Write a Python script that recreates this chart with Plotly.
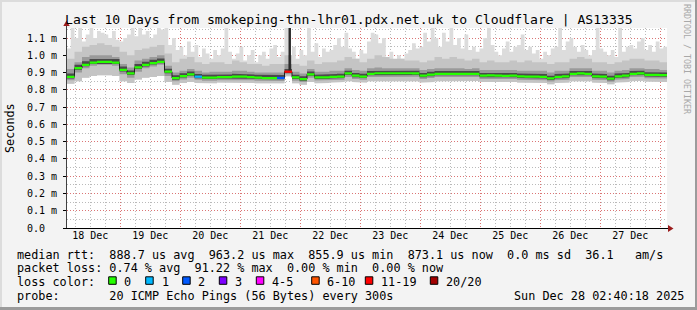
import plotly.graph_objects as go
import pandas as pd

# ---------------- data ----------------
START = "2025-12-18 02:40:18"
END = "2025-12-28 02:40:18"

# median rtt in ms, one value per 3-hour step (80 steps)
median_ms = [0.875, 0.925, 0.945, 0.958, 0.962, 0.962, 0.958, 0.915, 0.895, 0.930,
             0.944, 0.955, 0.962, 0.905, 0.868, 0.880, 0.890, 0.876, 0.871, 0.871,
             0.874, 0.873, 0.877, 0.876, 0.873, 0.871, 0.868, 0.868, 0.869, 0.905,
             0.872, 0.862, 0.890, 0.872, 0.872, 0.875, 0.877, 0.895, 0.882, 0.877,
             0.893, 0.896, 0.896, 0.896, 0.896, 0.896, 0.895, 0.882, 0.888, 0.893,
             0.892, 0.893, 0.893, 0.892, 0.893, 0.882, 0.883, 0.882, 0.881, 0.882,
             0.878, 0.877, 0.876, 0.875, 0.866, 0.875, 0.878, 0.893, 0.895, 0.893,
             0.878, 0.876, 0.865, 0.878, 0.882, 0.893, 0.895, 0.886, 0.886, 0.885]

# loss category index per step (0 -> "0", 1 -> "1", 2 -> "2", ..., 6 -> "11-19")
loss_idx = [0] * 17 + [1] + [0] * 10 + [2, 6] + [0] * 50

# smoke percentiles (ms), per 3-hour step
min_ms = [0.835, 0.850, 0.870, 0.880, 0.885, 0.885, 0.880, 0.850, 0.840, 0.860,
          0.870, 0.875, 0.880, 0.845, 0.830, 0.840, 0.845, 0.840, 0.840, 0.838,
          0.842, 0.840, 0.843, 0.842, 0.840, 0.838, 0.836, 0.835, 0.838, 0.878,
          0.838, 0.830, 0.845, 0.838, 0.840, 0.842, 0.845, 0.850, 0.845, 0.842,
          0.850, 0.852, 0.853, 0.852, 0.850, 0.852, 0.850, 0.842, 0.846, 0.850,
          0.850, 0.852, 0.850, 0.849, 0.851, 0.845, 0.845, 0.844, 0.843, 0.845,
          0.842, 0.841, 0.840, 0.840, 0.832, 0.840, 0.842, 0.850, 0.852, 0.850,
          0.842, 0.840, 0.832, 0.842, 0.845, 0.850, 0.852, 0.848, 0.846, 0.846]

p90_ms = [0.98, 1.02, 1.05, 1.06, 1.07, 1.06, 1.05, 1.02, 1.00, 1.03,
          1.04, 1.05, 1.06, 1.01, 0.96, 0.98, 0.99, 0.96, 0.95, 0.96,
          0.96, 0.95, 0.97, 0.96, 0.95, 0.95, 0.94, 0.95, 0.95, 1.00,
          0.95, 0.94, 0.97, 0.95, 0.96, 0.96, 0.97, 0.99, 0.98, 0.96,
          0.98, 1.00, 0.99, 0.98, 0.98, 0.97, 0.97, 0.96, 0.97, 0.99,
          0.98, 0.99, 0.98, 0.97, 0.98, 0.96, 0.97, 0.96, 0.96, 0.97,
          0.96, 0.97, 0.96, 0.96, 0.95, 0.96, 0.96, 0.98, 0.99, 0.98,
          0.96, 0.96, 0.95, 0.96, 0.97, 0.98, 0.98, 0.97, 0.97, 0.96]

p75_ms = [0.920, 0.960, 0.990, 1.000, 1.000, 1.000, 0.990, 0.950, 0.930, 0.970,
          0.980, 0.990, 1.000, 0.940, 0.900, 0.910, 0.920, 0.910, 0.900, 0.905,
          0.905, 0.905, 0.910, 0.910, 0.905, 0.900, 0.900, 0.900, 0.900, 0.950,
          0.905, 0.895, 0.920, 0.905, 0.905, 0.910, 0.910, 0.925, 0.915, 0.910,
          0.925, 0.930, 0.925, 0.925, 0.925, 0.925, 0.925, 0.915, 0.920, 0.925,
          0.925, 0.925, 0.925, 0.920, 0.925, 0.915, 0.915, 0.915, 0.915, 0.915,
          0.910, 0.910, 0.910, 0.910, 0.900, 0.910, 0.910, 0.925, 0.925, 0.925,
          0.910, 0.910, 0.900, 0.910, 0.915, 0.925, 0.925, 0.920, 0.920, 0.915]

p25_ms = [0.855, 0.900, 0.925, 0.940, 0.945, 0.945, 0.940, 0.890, 0.870, 0.905,
          0.925, 0.935, 0.945, 0.880, 0.850, 0.860, 0.870, 0.858, 0.853, 0.853,
          0.856, 0.855, 0.858, 0.857, 0.855, 0.853, 0.850, 0.850, 0.851, 0.890,
          0.853, 0.845, 0.870, 0.854, 0.854, 0.856, 0.858, 0.875, 0.863, 0.858,
          0.874, 0.877, 0.877, 0.877, 0.876, 0.877, 0.876, 0.863, 0.869, 0.874,
          0.873, 0.874, 0.874, 0.873, 0.874, 0.863, 0.864, 0.863, 0.862, 0.863,
          0.859, 0.858, 0.857, 0.856, 0.848, 0.856, 0.859, 0.874, 0.876, 0.874,
          0.859, 0.857, 0.847, 0.859, 0.863, 0.874, 0.876, 0.867, 0.867, 0.866]

p60_ms = [0.895, 0.945, 0.965, 0.978, 0.982, 0.982, 0.978, 0.935, 0.912, 0.950,
          0.962, 0.974, 0.982, 0.922, 0.884, 0.896, 0.906, 0.892, 0.887, 0.888,
          0.890, 0.889, 0.893, 0.892, 0.889, 0.887, 0.884, 0.885, 0.886, 0.920,
          0.888, 0.878, 0.906, 0.888, 0.888, 0.891, 0.893, 0.911, 0.898, 0.893,
          0.909, 0.912, 0.912, 0.912, 0.912, 0.912, 0.911, 0.898, 0.904, 0.909,
          0.908, 0.909, 0.909, 0.908, 0.909, 0.898, 0.899, 0.898, 0.897, 0.898,
          0.894, 0.893, 0.892, 0.891, 0.882, 0.891, 0.894, 0.909, 0.911, 0.909,
          0.894, 0.892, 0.881, 0.894, 0.898, 0.909, 0.911, 0.902, 0.902, 0.901]

p40_ms = [0.866, 0.916, 0.936, 0.950, 0.954, 0.954, 0.950, 0.906, 0.886, 0.921,
          0.935, 0.947, 0.954, 0.896, 0.859, 0.871, 0.881, 0.867, 0.862, 0.863,
          0.865, 0.864, 0.868, 0.867, 0.864, 0.862, 0.859, 0.860, 0.861, 0.897,
          0.863, 0.853, 0.881, 0.863, 0.863, 0.866, 0.868, 0.886, 0.873, 0.868,
          0.884, 0.887, 0.887, 0.887, 0.887, 0.887, 0.886, 0.873, 0.879, 0.884,
          0.883, 0.884, 0.884, 0.883, 0.884, 0.873, 0.874, 0.873, 0.872, 0.873,
          0.869, 0.868, 0.867, 0.866, 0.857, 0.866, 0.869, 0.884, 0.886, 0.884,
          0.869, 0.867, 0.856, 0.869, 0.873, 0.884, 0.886, 0.877, 0.877, 0.876]

# maximum ping (ms), per 90-minute step (160 steps)
max_ms = [1.04, 1.20, 1.10, 1.20, 1.08, 1.12, 1.20, 1.10, 1.14, 1.13,
          1.12, 1.10, 1.14, 1.09, 1.08, 1.10, 1.12, 1.20, 1.11, 1.20,
          1.12, 1.14, 1.10, 1.12, 1.20, 1.15, 1.20, 1.06, 1.10, 1.03,
          1.05, 1.00, 1.08, 1.02, 1.06, 0.99, 1.04, 1.01, 0.98, 1.03,
          1.00, 1.04, 1.20, 1.02, 0.98, 1.01, 1.05, 0.97, 1.00, 1.03,
          0.96, 1.00, 1.02, 0.98, 1.04, 1.06, 0.99, 1.02, 1.20, 1.00,
          1.05, 0.98, 1.03, 1.00, 1.20, 1.02, 1.07, 0.99, 1.04, 1.02,
          1.03, 1.06, 1.10, 1.05, 1.13, 1.04, 1.02, 0.98, 1.03, 1.01,
          1.08, 1.13, 1.12, 1.07, 1.10, 0.99, 1.02, 0.97, 1.00, 0.98,
          1.01, 1.03, 1.07, 1.04, 1.05, 1.13, 1.08, 1.20, 1.10, 1.05,
          1.13, 1.08, 1.20, 1.06, 1.10, 1.04, 1.12, 1.03, 1.05, 1.02,
          1.04, 1.10, 1.20, 1.06, 1.02, 1.00, 1.04, 1.08, 1.02, 1.05,
          1.06, 1.12, 1.03, 1.05, 1.01, 1.03, 0.98, 1.02, 1.00, 1.04,
          1.05, 1.20, 1.03, 1.08, 1.10, 1.05, 1.02, 1.06, 1.03, 1.00,
          1.03, 1.20, 1.04, 1.02, 1.00, 1.03, 0.99, 1.20, 1.02, 1.05,
          1.06, 1.04, 1.08, 1.10, 1.03, 1.06, 1.02, 1.08, 1.04, 1.05]

# high-loss sample (91 % loss) that shows as a dark column
spike_time = "2025-12-21 19:45"
spike_low_ms = 0.905
spike_high_ms = 1.25

day_labels = ["18 Dec", "19 Dec", "20 Dec", "21 Dec", "22 Dec",
              "23 Dec", "24 Dec", "25 Dec", "26 Dec", "27 Dec"]
y_tick_vals = [0.0, 0.1, 0.2, 0.3, 0.4, 0.5, 0.6, 0.7, 0.8, 0.9, 1.0, 1.1]
y_tick_text = ["0.0\u00a0\u00a0", "0.1 m", "0.2 m", "0.3 m", "0.4 m", "0.5 m",
               "0.6 m", "0.7 m", "0.8 m", "0.9 m", "1.0 m", "1.1 m"]

loss_labels = ["0", "1", "2", "3", "4-5", "6-10", "11-19", "20/20"]
loss_colors = ["#26ff00", "#00b8ff", "#0059ff", "#7e00ff", "#ff00ff",
               "#ff5500", "#ff0000", "#a10000"]

title_text = "Last 10 Days from smokeping-thn-lhr01.pdx.net.uk to Cloudflare | AS13335"
legend_rtt = "median rtt:  888.7 us avg  963.2 us max  855.9 us min  873.1 us now  0.0 ms sd  36.1   am/s"
legend_loss = "packet loss: 0.74 % avg  91.22 % max  0.00 % min  0.00 % now"
legend_probe = "probe:       20 ICMP Echo Pings (56 Bytes) every 300s"
stamp_text = "Sun Dec 28 02:40:18 2025"

# ---------------- geometry helpers ----------------
W, H = 697, 310
ML, MR, MT, MB = 67, 30, 28, 82
PW, PH = W - ML - MR, H - MT - MB
Y_TOP = 1.158

def px(xp):
    return (xp - ML) / PW

def py(yp):
    return (H - MB - yp) / PH

MONO = "DejaVu Sans Mono"
MAJOR_GRID = "rgba(225,105,105,0.85)"
MINOR_GRID = "rgba(140,140,140,0.6)"
DOT = "1px,2px"

edges80 = list(pd.date_range(START, periods=len(median_ms) + 1, freq="3h"))
edges160 = list(pd.date_range(START, periods=len(max_ms) + 1, freq="90min"))

def step_band(e_up, upper, e_lo, lower):
    xs, ys = [], []
    for i, v in enumerate(upper):
        xs += [e_up[i], e_up[i + 1]]
        ys += [v, v]
    for i in reversed(range(len(lower))):
        xs += [e_lo[i + 1], e_lo[i]]
        ys += [lower[i], lower[i]]
    return xs, ys

fig = go.Figure()

def add_band(xs, ys, color):
    fig.add_trace(go.Scatter(x=xs, y=ys, mode="lines", fill="toself",
                             fillcolor=color, line=dict(width=0, color=color),
                             hoverinfo="skip", showlegend=False))

# smoke
add_band(*step_band(edges160, max_ms, edges80, min_ms), "#dcdcdc")
add_band(*step_band(edges80, p90_ms, edges80, min_ms), "#c4c4c4")
add_band(*step_band(edges80, p75_ms, edges80, p25_ms), "#9a9a9a")
add_band(*step_band(edges80, p60_ms, edges80, p40_ms), "#4a4a4a")

# high-loss dark column
st = pd.Timestamp(spike_time)
half = pd.Timedelta(minutes=30)
add_band([st - half, st + half, st + half, st - half],
         [spike_high_ms, spike_high_ms, spike_low_ms, spike_low_ms], "#2a2a2a")

# median line (dark step) + loss-coloured blocks
fig.add_trace(go.Scatter(x=edges80, y=median_ms + [median_ms[-1]], mode="lines",
                         line=dict(shape="hv", color="#202020", width=1),
                         hoverinfo="skip", showlegend=False))
HB = 0.0065
for ci, col in enumerate(loss_colors):
    xs, ys = [], []
    for k, m in enumerate(median_ms):
        if loss_idx[k] != ci:
            continue
        a, b = edges80[k], edges80[k + 1]
        xs += [a, b, b, a, a, None]
        ys += [m + HB, m + HB, m - HB, m - HB, m + HB, None]
    if xs:
        fig.add_trace(go.Scatter(x=xs, y=ys, mode="lines", fill="toself",
                                 fillcolor=col, line=dict(width=0, color=col),
                                 hoverinfo="skip", showlegend=False))

# invisible trace to activate overlay axis for day labels
fig.add_trace(go.Scatter(x=[START, END], y=[0, 0], xaxis="x2", mode="markers",
                         marker=dict(opacity=0), hoverinfo="skip", showlegend=False))

start_day = pd.Timestamp("2025-12-18")
midnights = [start_day + pd.Timedelta(days=d) for d in range(1, 11)]
noons = [start_day + pd.Timedelta(days=d, hours=12) for d in range(len(day_labels))]

fig.update_layout(
    width=W, height=H, autosize=False,
    margin=dict(l=ML, r=MR, t=MT, b=MB, pad=0),
    paper_bgcolor="#f3f3f3", plot_bgcolor="#ffffff",
    showlegend=False,
    font=dict(family=MONO, color="#000000", size=10),
    xaxis=dict(type="date", range=[START, END], tickmode="array", tickvals=midnights,
               showticklabels=False, ticks="", showgrid=True,
               gridcolor=MAJOR_GRID, griddash=DOT, gridwidth=1,
               zeroline=False, showline=False,
               minor=dict(dtick=6 * 3600 * 1000, tick0="2025-12-18 00:00",
                          showgrid=True, gridcolor=MINOR_GRID, griddash=DOT,
                          gridwidth=1, ticks="")),
    xaxis2=dict(type="date", range=[START, END], overlaying="x", anchor="y",
                side="bottom", tickmode="array", tickvals=noons, ticktext=day_labels,
                showgrid=False, ticks="", zeroline=False, showline=False,
                tickfont=dict(family=MONO, size=10, color="#000000")),
    yaxis=dict(range=[0, Y_TOP], tickmode="array", tickvals=y_tick_vals,
               ticktext=y_tick_text, showgrid=True,
               gridcolor=MAJOR_GRID, griddash=DOT, gridwidth=1,
               zeroline=False, showline=False, ticks="outside", ticklen=3,
               tickcolor="#000000", ticklabelstandoff=4,
               tickfont=dict(family=MONO, size=10, color="#000000"),
               minor=dict(dtick=0.05, tick0=0, showgrid=True, gridcolor=MINOR_GRID,
                          griddash=DOT, gridwidth=1, ticks="")),
)

shapes = []
# frame (3D border)
shapes.append(dict(type="rect", xref="paper", yref="paper", x0=px(0), x1=px(W), y0=py(0), y1=py(2),
                   fillcolor="#dcdcdc", line=dict(width=0), layer="below"))
shapes.append(dict(type="rect", xref="paper", yref="paper", x0=px(0), x1=px(2), y0=py(0), y1=py(H),
                   fillcolor="#dcdcdc", line=dict(width=0), layer="below"))
shapes.append(dict(type="rect", xref="paper", yref="paper", x0=px(0), x1=px(W), y0=py(H - 3), y1=py(H),
                   fillcolor="#9b9b9b", line=dict(width=0), layer="below"))
shapes.append(dict(type="rect", xref="paper", yref="paper", x0=px(W - 2), x1=px(W), y0=py(0), y1=py(H),
                   fillcolor="#9b9b9b", line=dict(width=0), layer="below"))
# axes
shapes.append(dict(type="line", xref="paper", yref="paper", x0=px(ML - 0.5), x1=px(ML - 0.5),
                   y0=py(H - MB), y1=py(24), line=dict(color="#404040", width=1)))
shapes.append(dict(type="line", xref="paper", yref="paper", x0=px(63), x1=px(670),
                   y0=py(H - MB + 0.5), y1=py(H - MB + 0.5), line=dict(color="#000000", width=1.2)))
# arrows
shapes.append(dict(type="path", xref="paper", yref="paper",
                   path="M {} {} L {} {} L {} {} Z".format(px(63.3), py(26), px(66.5), py(20.5), px(69.7), py(26)),
                   fillcolor="#9b1c1c", line=dict(width=0)))
shapes.append(dict(type="path", xref="paper", yref="paper",
                   path="M {} {} L {} {} L {} {} Z".format(px(668), py(H - MB - 3), px(673.5), py(H - MB + 0.5), px(668), py(H - MB + 4)),
                   fillcolor="#9b1c1c", line=dict(width=0)))

annotations = []

def txt(x, y, s, size, xanchor="left", color="#000000", angle=0):
    annotations.append(dict(xref="paper", yref="paper", x=px(x), y=py(y),
                            text=s.replace(" ", "\u00a0"), showarrow=False,
                            xanchor=xanchor, yanchor="middle", textangle=angle,
                            font=dict(family=MONO, size=size, color=color),
                            borderpad=0))

txt(348.5, 19.5, title_text, 13.1, xanchor="center")
txt(10, 128, "Seconds", 11.8, xanchor="center", angle=-90)
txt(687, 59, "RRDTOOL / TOBI OETIKER", 8.3, xanchor="center", color="#a8a8a8", angle=90)

LEG = 11.8
txt(16, 254.5, legend_rtt, LEG)
txt(16, 268.3, legend_loss, LEG)
txt(16, 281.5, "loss color:", LEG)
txt(16, 296, legend_probe, LEG)
txt(513.3, 296, stamp_text, LEG)

box_left = [108.7, 145.7, 182.7, 219.3, 256.3, 311.7, 365.3, 430.3]
label_left = [123.3, 160.7, 197.3, 234.3, 270.7, 326.0, 380.3, 445.3]
for i, (lab, col) in enumerate(zip(loss_labels, loss_colors)):
    shapes.append(dict(type="rect", xref="paper", yref="paper",
                       x0=px(box_left[i]), x1=px(box_left[i] + 7.5),
                       y0=py(276.8), y1=py(284.3),
                       fillcolor=col, line=dict(color="#000000", width=1)))
    txt(label_left[i], 281.5, lab, LEG)

fig.update_layout(shapes=shapes, annotations=annotations)
fig.write_html("out.html")
